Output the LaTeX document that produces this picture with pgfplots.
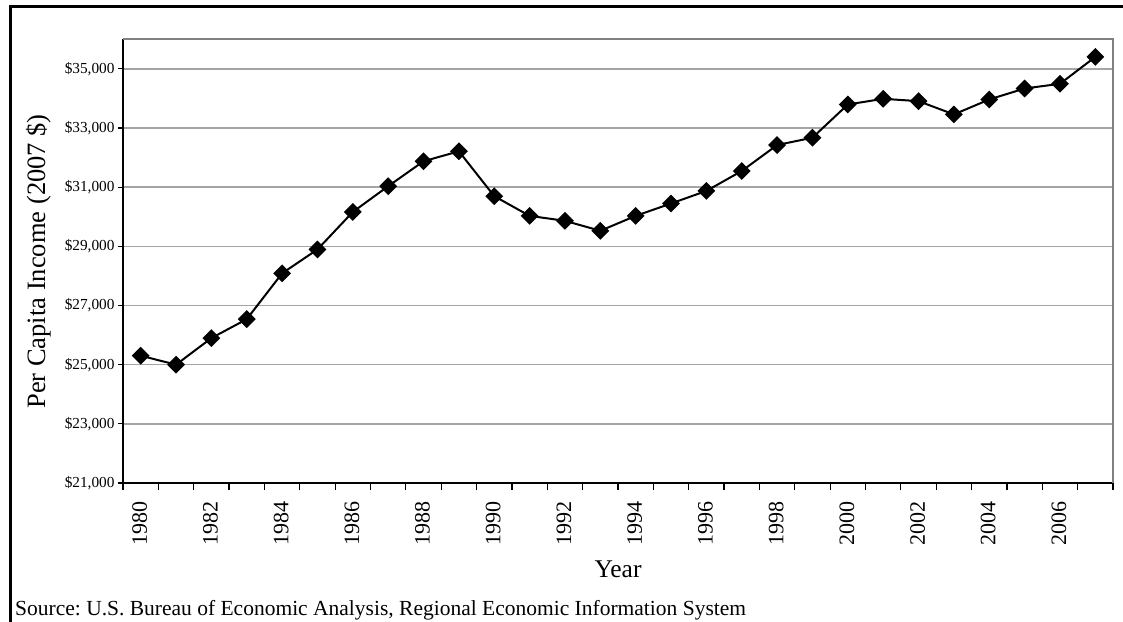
\documentclass[border=0pt]{standalone}
\usepackage{fontspec}
\setmainfont{Liberation Serif}
\usepackage{pgfplots}
\pgfplotsset{compat=1.18}
\definecolor{gridgray}{RGB}{165,165,165}
\definecolor{boxgray}{RGB}{128,128,128}
\newcommand{\xl}[1]{\mbox{\fontsize{22bp}{25bp}\selectfont #1}}
\newcommand{\yl}[1]{\mbox{\fontsize{15.3bp}{18bp}\selectfont\$#1}}
\begin{document}
\frenchspacing
\begin{tikzpicture}
\useasboundingbox (0,0) rectangle (1123bp,622bp);
\draw[line width=3bp, line join=miter] (10bp,0) -- (10bp,615.3bp) -- (1123bp,615.3bp);
\begin{axis}[
  at={(123bp,139bp)}, anchor=south west,
  scale only axis, width=990bp, height=443.7bp,
  xmin=-0.5, xmax=27.5, ymin=21000, ymax=36000,
  scaled y ticks=false,
  axis x line*=bottom, axis y line*=left,
  axis line style={line width=1.5bp, black},
  tick align=outside,
  xtick={0,2,...,26},
  xticklabels={\xl{1980},\xl{1982},\xl{1984},\xl{1986},\xl{1988},\xl{1990},\xl{1992},\xl{1994},\xl{1996},\xl{1998},\xl{2000},\xl{2002},\xl{2004},\xl{2006}},
  major x tick style={draw=none},
  minor xtick={-0.5,0.5,...,27.5},
  minor x tick style={line width=1.2bp, black},
  minor tick length=7bp,
  x tick label style={rotate=90, anchor=east, xshift=-10bp, yshift=1bp},
  ytick={21000,23000,...,35000},
  yticklabels={{\yl{21,000}},{\yl{23,000}},{\yl{25,000}},{\yl{27,000}},{\yl{29,000}},{\yl{31,000}},{\yl{33,000}},{\yl{35,000}}},
  major y tick style={line width=1.2bp, black},
  major tick length=5bp,
  ymajorgrids,
  grid style={line width=1.5bp, gridgray},
  clip=false,
  after end axis/.code={
    \draw[line width=2bp, boxgray] (rel axis cs:0,1) -- (rel axis cs:1,1) -- (rel axis cs:1,0);
  },
]
\addplot[black, line width=2bp, mark=square*, mark size=5.3bp, mark options={rotate=45, fill=black}]
coordinates {
(0,25303) (1,25000) (2,25899) (3,26539) (4,28088) (5,28896) (6,30163) (7,31034)
(8,31877) (9,32214) (10,30696) (11,30031) (12,29863) (13,29526) (14,30031) (15,30449)
(16,30874) (17,31548) (18,32425) (19,32674) (20,33796) (21,33988) (22,33909) (23,33460)
(24,33966) (25,34337) (26,34495) (27,35405)
};
\end{axis}
\node[anchor=base, font=\fontsize{25.5bp}{28bp}\selectfont, inner sep=0] at (618bp,44.3bp) {Year};
\node[anchor=base, rotate=90, font=\fontsize{26.5bp}{29bp}\selectfont, inner sep=0] at (45bp,360.5bp) {Per Capita Income (2007 \$)};
\node[anchor=base west, font=\fontsize{21.5bp}{24bp}\selectfont, inner sep=0] at (15bp,7bp) {Source: U.S. Bureau of Economic Analysis, Regional Economic Information System};
\end{tikzpicture}
\end{document}
